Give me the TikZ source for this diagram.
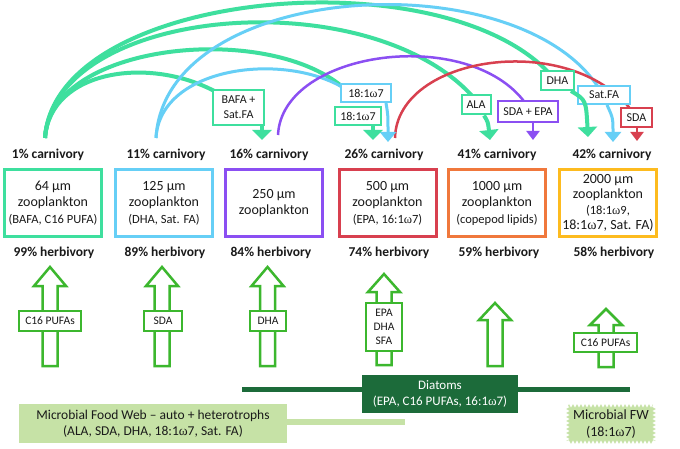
\documentclass[tikz,border=0pt]{standalone}
\usepackage{fontspec}
\setmainfont{Carlito}
\newfontfamily\omfont{Liberation Serif}
\newcommand{\om}{{\omfont ω}}
\usetikzlibrary{arrows.meta,decorations.pathmorphing}
\definecolor{cteal}{HTML}{3EDF9E}
\definecolor{cblue}{HTML}{66CFF6}
\definecolor{cpurple}{HTML}{8B4FF2}
\definecolor{cred}{HTML}{D8404F}
\definecolor{corange}{HTML}{F0783C}
\definecolor{cyellow}{HTML}{FDBB1F}
\definecolor{cgreen}{HTML}{3CB72E}
\definecolor{dkgreen}{HTML}{1C6B3A}
\definecolor{ltgreen}{HTML}{C6E2A6}
\definecolor{txt}{HTML}{1A1A1A}
\newcommand{\hollowup}[4]{%
  \draw[garrow] ({#1-7.5},#4) -- ({#1-7.5},#3) -- ({#1-16},#3) -- (#1,#2) -- ({#1+16},#3) -- ({#1+7.5},#3) -- ({#1+7.5},#4) -- cycle;}
\begin{document}
\begin{tikzpicture}[x=1pt,y=-1pt,
  every node/.style={text=txt},
  lbl/.style={font=\bfseries\fontsize{13.5}{16}\selectfont, inner sep=0pt},
  zbox/.style={draw, line width=3pt, fill=white, minimum width=97pt, minimum height=67pt, inner sep=0pt, align=center, font=\fontsize{14}{16.5}\selectfont},
  fabox/.style={draw, line width=2pt, fill=white, inner sep=0pt, align=center, font=\fontsize{12}{15}\selectfont},
  gbox/.style={draw=cgreen, line width=2.5pt, fill=white, inner sep=0pt, align=center, font=\fontsize{11.5}{14}\selectfont},
  garrow/.style={draw=cgreen, line width=2.5pt, fill=white, line join=miter},
  arcT/.style={draw=cteal, line width=4pt},
  arcB/.style={draw=cblue, line width=3pt},
  arcP/.style={draw=cpurple, line width=2.5pt},
  arcR/.style={draw=cred, line width=2.5pt},
  tipT/.style={-{Triangle[width=19pt,length=10pt]}},
  tipB/.style={-{Triangle[width=16pt,length=10pt]}},
  tipS/.style={-{Triangle[width=13pt,length=9pt]}}
]
\useasboundingbox (0,0) rectangle (680,449);
\fill[white] (0,0) rectangle (680,449);

% arc start points
\coordinate (s1) at (45,138);
\coordinate (s2) at (156,138);
\coordinate (s3) at (278,135);
\coordinate (s4) at (395,138);

% label boxes positions (for arcs)
\coordinate (pBAFA) at (238.5,107.5);
\coordinate (pUp) at (366,93);
\coordinate (pLo) at (358,116);
\coordinate (pALA) at (476,105);
\coordinate (pSE) at (528,111.5);
\coordinate (pDHA) at (557.5,80.5);
\coordinate (pSat) at (604,95);
\coordinate (pSDA) at (636.5,117.5);

% arcs
\draw[arcT] (s1) .. controls (55,-10) and (440,-45) .. (550,74);
\draw[arcT] (s1) .. controls (55,5) and (370,-20) .. (474,98);
\draw[arcT] (s1) .. controls (50,40) and (280,20) .. (350,94);
\draw[arcT] (s1) .. controls (50,70) and (150,55) .. (218,93);
\draw[arcB] (s2) .. controls (165,-20) and (520,-40) .. (600,90);
\draw[arcB] (s2) .. controls (160,65) and (290,50) .. (350,92);
\draw[arcP] (s3) .. controls (282,50) and (470,25) .. (526,104);
\draw[arcR] (s4) .. controls (397,55) and (570,30) .. (632,111);

% fatty acid boxes on arcs
\node[fabox, draw=cteal, minimum width=51pt, minimum height=35pt] (bafa) at (pBAFA) {BAFA +\\Sat.FA};
\node[fabox, draw=cblue, minimum width=50pt, minimum height=18pt] (up18) at (pUp) {18:1\om7};
\node[fabox, draw=cteal, minimum width=46pt, minimum height=18pt] (lo18) at (pLo) {18:1\om7};
\node[fabox, draw=cteal, minimum width=29pt, minimum height=19pt] (ala) at (pALA) {ALA};
\node[fabox, draw=cpurple, minimum width=60pt, minimum height=21pt] (sdaepa) at (pSE) {SDA + EPA};
\node[fabox, draw=cteal, minimum width=33pt, minimum height=19pt] (dha) at (pDHA) {DHA};
\node[fabox, draw=cblue, minimum width=52pt, minimum height=18pt] (satfa) at (pSat) {Sat.FA};
\node[fabox, draw=cred, minimum width=31pt, minimum height=19pt] (sda) at (pSDA) {SDA};

% carnivory labels
\node[lbl] (c1) at (48,155) {1\% carnivory};
\node[lbl] (c2) at (166,155) {11\% carnivory};
\node[lbl] (c3) at (269,155) {16\% carnivory};
\node[lbl] (c4) at (384,155) {26\% carnivory};
\node[lbl] (c5) at (497,155) {41\% carnivory};
\node[lbl] (c6) at (612,155) {42\% carnivory};

% arrows from boxes down to carnivory
\draw[cteal, line width=4pt, tipT] (bafa.south -| 262,0) -- (262,140);
\draw[cblue, line width=3pt, tipB] (up18.south -| 386,0) .. controls (388,115) .. (388,142);
\draw[cteal, line width=4pt, tipT] (lo18.south -| 373,0) -- (373,140);
\draw[cteal, line width=4pt, tipT] (ala.south -| 484,0) .. controls (488,122) .. (490,140);
\draw[cpurple, line width=2.5pt, tipS] (sdaepa.south -| 533,0) -- (533,140);
\draw[cteal, line width=4pt, tipT] (dha.south -| 571,0) .. controls (586,100) .. (588,137);
\draw[cblue, line width=3pt, tipB] (satfa.south -| 607,0) .. controls (613,118) .. (613,142);
\draw[cred, line width=2.5pt, tipS] (sda.south -| 637,0) -- (637,141);

% zooplankton boxes
\node[zbox, draw=cteal] (z1) at (53,203) {64 µm\\zooplankton\\\fontsize{12.5}{16.5}\selectfont (BAFA, C16 PUFA)};
\node[zbox, draw=cblue] (z2) at (164,203) {125 µm\\zooplankton\\\fontsize{12.5}{16.5}\selectfont (DHA, Sat. FA)};
\node[zbox, draw=cpurple] (z3) at (274,203) {250 µm\\zooplankton};
\node[zbox, draw=cred] (z4) at (387.5,203) {500 µm\\zooplankton\\\fontsize{12.5}{16.5}\selectfont (EPA, 16:1\om7)};
\node[zbox, draw=corange] (z5) at (497,203) {1000 µm\\zooplankton\\\fontsize{12.5}{16.5}\selectfont (copepod lipids)};
\node[zbox, draw=cyellow, font=\fontsize{14}{15.3}\selectfont] (z6) at (608,203) {2000 µm\\zooplankton\\\fontsize{12.5}{15.3}\selectfont (18:1\om9,\\18:1\om7, Sat. FA)};

% herbivory labels
\node[lbl] (h1) at (54,253) {99\% herbivory};
\node[lbl] (h2) at (165,253) {89\% herbivory};
\node[lbl] (h3) at (271,253) {84\% herbivory};
\node[lbl] (h4) at (389,253) {74\% herbivory};
\node[lbl] (h5) at (499,253) {59\% herbivory};
\node[lbl] (h6) at (614,253) {58\% herbivory};

% hollow arrows
\hollowup{50}{267}{286}{366}
\hollowup{162}{267}{286}{366}
\hollowup{267.5}{267}{286}{366}
\hollowup{384}{274}{292}{365}
\hollowup{495}{303}{320}{366}
\hollowup{606}{309}{325}{367}
\node[gbox, minimum width=62pt, minimum height=20pt] (a1) at (50,321) {C16 PUFAs};
\node[gbox, minimum width=38pt, minimum height=20pt] (a2) at (163,321) {SDA};
\node[gbox, minimum width=36pt, minimum height=20pt] (a3) at (268,321) {DHA};
\node[gbox, minimum width=36pt, minimum height=48pt, font=\fontsize{11.5}{14}\selectfont] (a4) at (384,327) {EPA\\DHA\\SFA};
\node[gbox, minimum width=63pt, minimum height=19pt] (a6) at (605.5,342.5) {C16 PUFAs};

% base food webs
\coordinate (dl) at (242,389);
\coordinate (dr) at (630,389);
\draw[dkgreen, line width=5pt] (dl) -- (dr);
\node[fill=dkgreen, text=white, minimum width=156pt, minimum height=38pt, inner sep=0pt, align=center, font=\fontsize{13}{16}\selectfont] (diat) at (440,394) {Diatoms\\(EPA, C16 PUFAs, 16:1\om7)};

\node[fill=ltgreen, minimum width=268pt, minimum height=39pt, inner sep=0pt, align=center, font=\fontsize{13.5}{16.5}\selectfont] (mfw) at (153,423.5) {Microbial Food Web – auto + heterotrophs\\(ALA, SDA, DHA, 18:1\om7, Sat. FA)};
\coordinate (lr) at (405,422);
\draw[ltgreen, line width=6pt] (mfw.east |- lr) -- (lr);

\fill[ltgreen, decorate, decoration={zigzag, segment length=4pt, amplitude=1.8pt}] (568,406) -- (654,406) -- (654,442) -- (568,442) -- cycle;
\node[align=center, inner sep=0pt, font=\fontsize{14}{16.5}\selectfont] (mfw2) at (611,424) {Microbial FW\\(18:1\om7)};
\end{tikzpicture}
\end{document}
